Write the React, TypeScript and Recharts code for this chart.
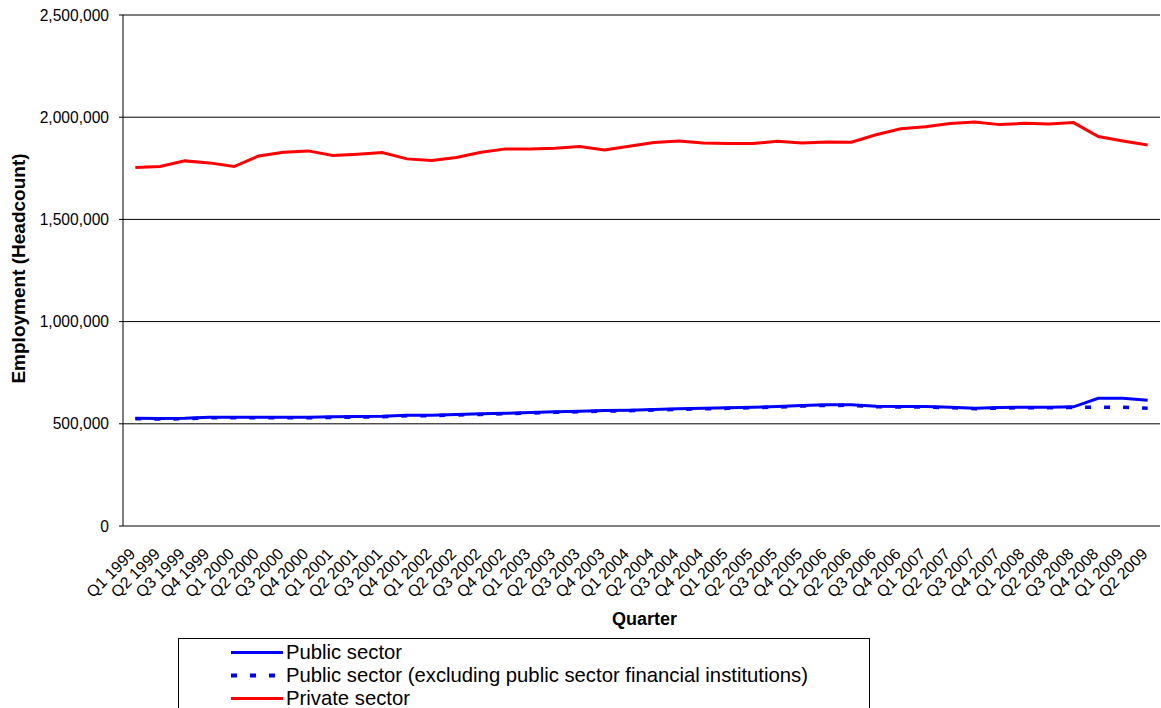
import React from 'react';
import { LineChart, Line, XAxis, YAxis, CartesianGrid, Legend } from 'recharts';

const FONT = '"Liberation Sans", Arial, sans-serif';

const quarters = [
  'Q1 1999', 'Q2 1999', 'Q3 1999', 'Q4 1999',
  'Q1 2000', 'Q2 2000', 'Q3 2000', 'Q4 2000',
  'Q1 2001', 'Q2 2001', 'Q3 2001', 'Q4 2001',
  'Q1 2002', 'Q2 2002', 'Q3 2002', 'Q4 2002',
  'Q1 2003', 'Q2 2003', 'Q3 2003', 'Q4 2003',
  'Q1 2004', 'Q2 2004', 'Q3 2004', 'Q4 2004',
  'Q1 2005', 'Q2 2005', 'Q3 2005', 'Q4 2005',
  'Q1 2006', 'Q2 2006', 'Q3 2006', 'Q4 2006',
  'Q1 2007', 'Q2 2007', 'Q3 2007', 'Q4 2007',
  'Q1 2008', 'Q2 2008', 'Q3 2008', 'Q4 2008',
  'Q1 2009', 'Q2 2009',
];

const publicSector = [
  527200, 525700, 527200, 532100,
  532100, 532100, 532100, 532100,
  534000, 535500, 537000, 541900,
  541900, 545300, 548700, 551600,
  555000, 558500, 561400, 564800,
  566300, 569700, 573100, 576100,
  578000, 581000, 584400, 589000,
  592700, 592700, 585800, 584400,
  584400, 581000, 576100, 579500,
  581000, 581000, 582900, 624900,
  624900, 615100,
];

const publicSectorExclFin = [
  524500, 523000, 524800, 529500,
  529800, 529600, 529900, 529400,
  531500, 533000, 534800, 539200,
  539500, 542800, 546000, 549300,
  552500, 556000, 559000, 562300,
  564000, 567200, 570800, 573500,
  575600, 578500, 582000, 586500,
  590000, 590200, 583300, 582000,
  582000, 578500, 573600, 577000,
  578500, 578600, 580400, 581000,
  581000, 576100,
];

const privateSector = [
  1753600, 1758500, 1786300, 1776500,
  1758500, 1810700, 1828800, 1835200,
  1812200, 1819100, 1826900, 1796100,
  1787800, 1802400, 1828800, 1845000,
  1845000, 1848400, 1856200, 1840100,
  1858200, 1875700, 1884000, 1874300,
  1870800, 1870800, 1882600, 1874300,
  1879200, 1877700, 1913800, 1943700,
  1953400, 1968600, 1976900, 1963700,
  1970000, 1967100, 1973500, 1905500,
  1884000, 1864500,
];

const yTicks = [0, 500000, 1000000, 1500000, 2000000, 2500000];

const seriesNames = [
  'Public sector',
  'Public sector (excluding public sector financial institutions)',
  'Private sector',
];

const data = quarters.map((q, i) => ({
  pos: i + 0.5,
  quarter: q,
  publicSector: publicSector[i],
  publicSectorExclFin: publicSectorExclFin[i],
  privateSector: privateSector[i],
}));

const boundaryTicks = quarters.map((_, i) => i).concat([quarters.length]);
const centerTicks = quarters.map((_, i) => i + 0.5);

const QuarterTick = (props: any) => {
  const { x, y, payload } = props;
  const label = quarters[Math.floor(payload.value)];
  const ax = x + 1;
  const ay = y + 29;
  return (
    <text
      x={ax}
      y={ay}
      transform={`rotate(-45 ${ax} ${ay})`}
      textAnchor="end"
      fontSize={16}
      fontFamily={FONT}
      fill="#000"
    >
      {label}
    </text>
  );
};

const YTitle = (props: any) => {
  const vb = props.viewBox || { x: 0, y: 15, width: 123, height: 511 };
  const cx = vb.x + 18;
  const cy = vb.y + vb.height / 2 - 2;
  return (
    <text
      x={cx}
      y={cy}
      transform={`rotate(-90 ${cx} ${cy})`}
      textAnchor="middle"
      dominantBaseline="central"
      fontSize={19}
      fontWeight="bold"
      fontFamily={FONT}
      fill="#000"
    >
      Employment (Headcount)
    </text>
  );
};

const XTitle = (props: any) => {
  const vb = props.viewBox || { x: 123, y: 526, width: 1037, height: 182 };
  const cx = vb.x + vb.width / 2 + 3;
  const cy = vb.y + 93;
  return (
    <text
      x={cx}
      y={cy}
      textAnchor="middle"
      dominantBaseline="central"
      fontSize={18}
      fontWeight="bold"
      fontFamily={FONT}
      fill="#000"
    >
      Quarter
    </text>
  );
};

const LegendBox = () => {
  const rows = [
    { name: seriesNames[0], color: '#0000FF', dash: undefined as string | undefined, w: 3 },
    { name: seriesNames[1], color: '#0000FF', dash: '6 13', w: 4 },
    { name: seriesNames[2], color: '#FF0000', dash: undefined as string | undefined, w: 3 },
  ];
  return (
    <div
      style={{
        border: '1px solid #000',
        boxSizing: 'border-box',
        width: 692,
        height: 100,
        paddingTop: 2,
        fontFamily: FONT,
        fontSize: 20.3,
        color: '#000',
        background: '#fff',
      }}
    >
      {rows.map((r) => (
        <div key={r.name} style={{ display: 'flex', alignItems: 'center', height: 23 }}>
          <svg width={107} height={23} style={{ display: 'block', flex: 'none' }}>
            <line
              x1={52}
              x2={104}
              y1={11.5}
              y2={11.5}
              stroke={r.color}
              strokeWidth={r.w}
              strokeDasharray={r.dash}
            />
          </svg>
          <span style={{ whiteSpace: 'nowrap', lineHeight: '23px' }}>{r.name}</span>
        </div>
      ))}
    </div>
  );
};

export default function App() {
  return (
    <div
      style={{
        position: 'absolute',
        left: 0,
        top: 0,
        width: 1161,
        height: 708,
        overflow: 'hidden',
        background: '#fff',
      }}
    >
      <LineChart
        width={1161}
        height={708}
        data={data}
        margin={{ top: 15, right: 1, left: 0, bottom: 0 }}
      >
        <CartesianGrid vertical={false} stroke="#000" strokeWidth={1} />
        <XAxis
          xAxisId="bounds"
          dataKey="pos"
          type="number"
          domain={[0, quarters.length]}
          ticks={boundaryTicks}
          interval={0}
          tick={false}
          tickLine={{ stroke: '#000' }}
          tickSize={5}
          axisLine={{ stroke: '#000' }}
          height={0}
          allowDataOverflow
        />
        <XAxis
          dataKey="pos"
          type="number"
          domain={[0, quarters.length]}
          ticks={centerTicks}
          interval={0}
          tick={<QuarterTick />}
          tickLine={false}
          axisLine={false}
          tickSize={0}
          tickMargin={0}
          height={182}
          allowDataOverflow
          label={{ content: <XTitle /> } as any}
        />
        <YAxis
          type="number"
          domain={[0, 2500000]}
          ticks={yTicks}
          interval={0}
          width={123}
          tickFormatter={(v: number) => v.toLocaleString('en-US')}
          tick={{ fill: '#000', fontSize: 15.6, fontFamily: FONT }}
          tickLine={{ stroke: '#000' }}
          axisLine={{ stroke: '#000' }}
          tickSize={4}
          tickMargin={10}
          label={{ content: <YTitle /> } as any}
        />
        <Legend
          content={<LegendBox />}
          layout="horizontal"
          verticalAlign="middle"
          align="center"
          wrapperStyle={{ left: 178, top: 638, width: 692, height: 100 }}
        />
        <Line
          dataKey="privateSector"
          name={seriesNames[2]}
          stroke="#FF0000"
          strokeWidth={3}
          dot={false}
          activeDot={false}
          type="linear"
          isAnimationActive={false}
        />
        <Line
          dataKey="publicSector"
          name={seriesNames[0]}
          stroke="#0000FF"
          strokeWidth={3}
          dot={false}
          activeDot={false}
          type="linear"
          isAnimationActive={false}
        />
        <Line
          dataKey="publicSectorExclFin"
          name={seriesNames[1]}
          stroke="#0000FF"
          strokeWidth={3.5}
          strokeDasharray="6 13"
          dot={false}
          activeDot={false}
          type="linear"
          isAnimationActive={false}
        />
      </LineChart>
    </div>
  );
}
